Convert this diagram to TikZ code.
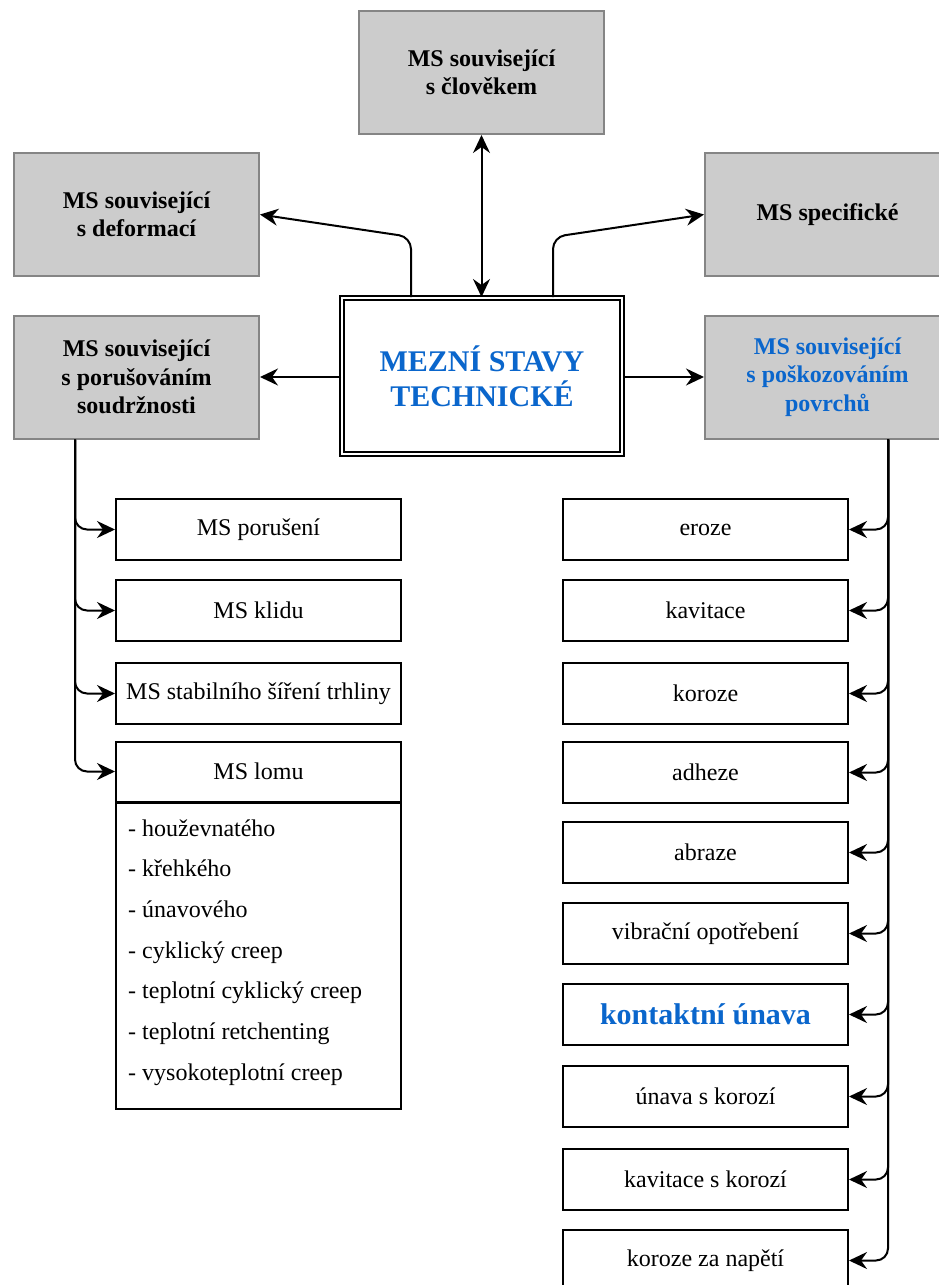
\documentclass[tikz,border=0pt]{standalone}
\usepackage{fontspec}
\setmainfont{Liberation Serif}
\usetikzlibrary{arrows.meta}
\definecolor{boxgray}{HTML}{CCCCCC}
\definecolor{edgegray}{HTML}{858585}
\definecolor{tblue}{HTML}{0A66CC}
\begin{document}
\begin{tikzpicture}[x=1pt,y=-1pt,
  graybox/.style={draw=edgegray, fill=boxgray, line width=2pt, minimum width=245pt, minimum height=123pt,
    align=center, font=\fontsize{24}{28.5}\selectfont\bfseries, inner sep=0pt},
  whitebox/.style={draw=black, fill=white, line width=2pt, minimum width=285pt, minimum height=61pt,
    font=\fontsize{24}{28}\selectfont, inner sep=0pt},
  conn/.style={line width=2pt, -{Stealth[length=18pt,width=17pt,inset=6pt]}},
  dconn/.style={line width=2pt, {Stealth[length=18pt,width=17pt,inset=6pt]}-{Stealth[length=18pt,width=17pt,inset=6pt]}},
  itemtext/.style={anchor=base west, font=\fontsize{24}{28}\selectfont, inner sep=0pt},
]
\useasboundingbox (0,0) rectangle (939,1285);
\fill[white] (0,0) rectangle (939,1285);

% top level
\node[graybox] (clovek) at (481.5,72.5) {MS související\\s člověkem};
\node[graybox] (deform) at (136.5,214.5) {MS související\\s deformací};
\node[graybox] (spec) at (827.5,214.5) {MS specifické};
\node[graybox] (porus) at (136.5,377) {MS související\\s porušováním\\soudržnosti};
\node[graybox, text=tblue] (poskoz) at (827.5,377) {MS související\\s poškozováním\\povrchů};
\node[draw, line width=2pt, double, double distance=2pt, fill=white, minimum width=280pt, minimum height=156pt,
  font=\fontsize{30}{35}\selectfont\bfseries, text=tblue, align=center, inner sep=0pt] (ctr) at (482,376) {MEZNÍ STAVY\\TECHNICKÉ};

% connectors from centre
\draw[dconn] (clovek.south) -- (clovek.south |- ctr.north);
\draw[conn, rounded corners=12pt] ([xshift=-71pt]ctr.north) -- ++(0,-60) -- (deform.east);
\draw[conn, rounded corners=12pt] ([xshift=71pt]ctr.north) -- ++(0,-60) -- (spec.west);
\draw[conn] (ctr.west |- porus.east) -- (porus.east);
\draw[conn] (ctr.east |- poskoz.west) -- (poskoz.west);

% left column
\node[whitebox] (porusheni) at (258.5,529.5) {MS porušení};
\node[whitebox] (klidu) at (258.5,610.5) {MS klidu};
\node[whitebox] (stabil) at (258.5,693.5) {MS stabilního šíření trhliny};
\node[whitebox, minimum height=60pt] (lomu) at (258.5,771.5) {MS lomu};
\node[draw, line width=2pt, minimum width=285pt, minimum height=306.5pt, anchor=north, inner sep=0pt] (lomulist) at (258.5,801.5) {};
\foreach \t [count=\i] in {houževnatého, křehkého, únavového, cyklický creep, teplotní cyklický creep, teplotní retchenting, vysokoteplotní creep}
  \node[itemtext] (item\i) at (128,{836+40.7*(\i-1)}) {- \t};

\foreach \n in {porusheni,klidu,stabil,lomu}
  \draw[conn, rounded corners=12pt] ([xshift=-61.5pt]porus.south) |- (\n.west);

% right column
\node[whitebox] (eroze) at (705.5,529.5) {eroze};
\node[whitebox] (kavitace) at (705.5,610.5) {kavitace};
\node[whitebox] (koroze) at (705.5,693.5) {koroze};
\node[whitebox] (adheze) at (705.5,772.5) {adheze};
\node[whitebox] (abraze) at (705.5,852.5) {abraze};
\node[whitebox] (vibr) at (705.5,933.5) {vibrační opotřebení};
\node[whitebox, font=\fontsize{30}{35}\selectfont\bfseries, text=tblue] (kontakt) at (705.5,1014.5) {kontaktní únava};
\node[whitebox] (unava) at (705.5,1096.5) {únava s korozí};
\node[whitebox] (kavkor) at (705.5,1179.5) {kavitace s korozí};
\node[whitebox] (koznap) at (705.5,1260.5) {koroze za napětí};

\foreach \n in {eroze,kavitace,koroze,adheze,abraze,vibr,kontakt,unava,kavkor,koznap}
  \draw[conn, rounded corners=12pt] ([xshift=60.5pt]poskoz.south) |- (\n.east);
\end{tikzpicture}
\end{document}
